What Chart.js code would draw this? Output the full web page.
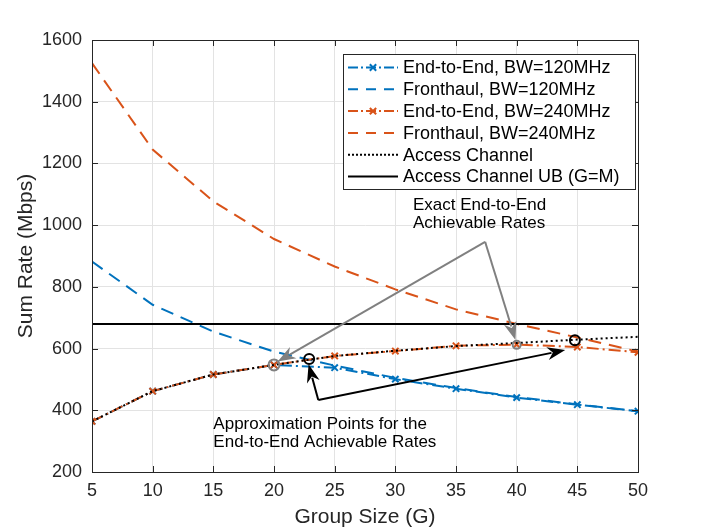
<!DOCTYPE html>
<html><head><meta charset="utf-8">
<script src="https://cdn.jsdelivr.net/npm/chart.js@4.4.0/dist/chart.umd.min.js"></script>
<style>html,body{margin:0;padding:0;background:#fff;} canvas{display:block;}</style>
</head><body>
<canvas id="c" width="706" height="530" style="width:706px;height:530px"></canvas>
<script>
// ---- data ----
const groupSizes = [5, 10, 15, 20, 25, 30, 35, 40, 45, 50];
const e2e120 = [364, 462, 516, 547, 538, 501, 470, 441, 418, 397];
const fronthaul120 = [882, 742, 655, 590, 545, 505, 472, 443, 419, 397];
const e2e240 = [364, 462, 516, 547, 576, 592, 609, 613, 605, 588];
const fronthaul240 = [1525, 1245, 1077, 955, 866, 792, 727, 680, 636, 590];
const accessChannel = [364, 462, 516, 547, 576, 593, 608, 618, 629, 638];
const accessUBx = [5, 50];
const accessUB = [680, 680];
const xTickValues = [5, 10, 15, 20, 25, 30, 35, 40, 45, 50];
const yTickValues = [200, 400, 600, 800, 1000, 1200, 1400, 1600];
const seriesLabels = ['End-to-End, BW=120MHz', 'Fronthaul, BW=120MHz', 'End-to-End, BW=240MHz',
  'Fronthaul, BW=240MHz', 'Access Channel', 'Access Channel UB (G=M)'];
// annotation points (data coordinates)
const exactPoints = [[20, 547], [40, 612]];
const approxPoints = [[22.9, 566], [44.8, 627]];
const exactArrowFrom = [37.4, 946];
const exactArrowTips = [[20.3, 558], [39.9, 628]];
const approxArrowFrom = [23.65, 433];
const approxArrowTips = [[22.85, 549], [44.0, 595]];
const exactText = ['Exact End-to-End', 'Achievable Rates'];
const exactTextAt = [31.45, 1065];
const approxText = ['Approximation Points for the', 'End-to-End Achievable Rates'];
const approxTextAt = [15.0, 355];

const BLUE = '#0072BD', ORANGE = '#D95319', AX = '#262626';
const FONT = '"Liberation Sans", Arial, Helvetica, sans-serif';
const pts = (xs, ys) => xs.map((x, i) => ({x, y: ys[i]}));

const styles = [
  {color: BLUE, dash: [12, 4, 2, 4], marker: true},
  {color: BLUE, dash: [13, 8], marker: false},
  {color: ORANGE, dash: [12, 4, 2, 4], marker: true},
  {color: ORANGE, dash: [13, 8], marker: false},
  {color: '#000', dash: [2, 3], marker: false},
  {color: '#000', dash: [], marker: false},
];
const seriesData = [pts(groupSizes, e2e120), pts(groupSizes, fronthaul120), pts(groupSizes, e2e240),
  pts(groupSizes, fronthaul240), pts(groupSizes, accessChannel), pts(accessUBx, accessUB)];

const datasets = seriesData.map((d, i) => ({
  label: seriesLabels[i], data: d, showLine: true,
  borderColor: styles[i].color, backgroundColor: styles[i].color,
  borderWidth: 2, borderDash: styles[i].dash,
  pointStyle: 'crossRot', pointRadius: styles[i].marker ? 4.5 : 0, pointBorderWidth: 2,
  pointBorderColor: styles[i].color, pointHoverRadius: 0,
  order: 6 - i, tension: 0
}));

function drawArrow(ctx, x0, y0, x1, y1, color, hl, hw) {
  const dx = x1 - x0, dy = y1 - y0, L = Math.hypot(dx, dy);
  const ux = dx / L, uy = dy / L;
  const bx = x1 - ux * hl, by = y1 - uy * hl;
  ctx.save();
  ctx.strokeStyle = color; ctx.fillStyle = color; ctx.lineWidth = 2; ctx.setLineDash([]);
  ctx.beginPath(); ctx.moveTo(x0, y0); ctx.lineTo(bx + ux * 4, by + uy * 4); ctx.stroke();
  ctx.beginPath();
  ctx.moveTo(x1, y1);
  ctx.lineTo(bx - uy * hw / 2, by + ux * hw / 2);
  ctx.lineTo(bx + ux * hl * 0.3, by + uy * hl * 0.3);
  ctx.lineTo(bx + uy * hw / 2, by - ux * hw / 2);
  ctx.closePath(); ctx.fill();
  ctx.restore();
}

const framePlugin = {
  id: 'frame',
  afterDatasetsDraw(chart) {
    const {ctx, chartArea: a, scales: {x, y}} = chart;
    const P = (p) => [x.getPixelForValue(p[0]), y.getPixelForValue(p[1])];
    ctx.save();
    ctx.setLineDash([]);
    ctx.lineWidth = 2;
    ctx.strokeStyle = '#808080';
    exactPoints.forEach((p, i) => { const [px, py] = P(p); ctx.beginPath(); ctx.arc(px, py, i === 0 ? 5.5 : 4, 0, Math.PI * 2); ctx.stroke(); });
    ctx.strokeStyle = '#000';
    approxPoints.forEach(p => { const [px, py] = P(p); ctx.beginPath(); ctx.arc(px, py, 5, 0, Math.PI * 2); ctx.stroke(); });
    const ef = P(exactArrowFrom);
    exactArrowTips.forEach(t => { const [tx, ty] = P(t); drawArrow(ctx, ef[0], ef[1], tx, ty, '#808080', 18, 13); });
    const af = P(approxArrowFrom);
    approxArrowTips.forEach(t => { const [tx, ty] = P(t); drawArrow(ctx, af[0], af[1], tx, ty, '#000', 18, 13); });
    ctx.fillStyle = '#000';
    ctx.font = '17px ' + FONT;
    ctx.textBaseline = 'middle'; ctx.textAlign = 'left';
    let [tx, ty] = P(exactTextAt);
    exactText.forEach((s, i) => ctx.fillText(s, tx, ty + i * 18.5));
    [tx, ty] = P(approxTextAt);
    approxText.forEach((s, i) => ctx.fillText(s, tx, ty + i * 18.5));
    ctx.strokeStyle = AX; ctx.lineWidth = 1;
    ctx.strokeRect(Math.round(a.left) + 0.5, Math.round(a.top) + 0.5, Math.round(a.right - a.left), Math.round(a.bottom - a.top));
    ctx.beginPath();
    xTickValues.forEach(v => {
      const px = Math.round(x.getPixelForValue(v)) + 0.5;
      ctx.moveTo(px, a.bottom); ctx.lineTo(px, a.bottom - 6);
      ctx.moveTo(px, a.top); ctx.lineTo(px, a.top + 6);
    });
    yTickValues.forEach(v => {
      const py = Math.round(y.getPixelForValue(v)) + 0.5;
      ctx.moveTo(a.left, py); ctx.lineTo(a.left + 6, py);
      ctx.moveTo(a.right, py); ctx.lineTo(a.right - 6, py);
    });
    ctx.stroke();
    const lx = 343, ly = 54, lw = 292, lh = 135;
    ctx.fillStyle = '#fff';
    ctx.fillRect(lx, ly, lw, lh);
    ctx.strokeStyle = AX; ctx.lineWidth = 1;
    ctx.strokeRect(lx + 0.5, ly + 0.5, lw, lh);
    ctx.font = '18px ' + FONT;
    ctx.textBaseline = 'middle';
    seriesLabels.forEach((lab, i) => {
      const cy = 67.5 + i * 21.8;
      const st = styles[i];
      ctx.strokeStyle = st.color; ctx.lineWidth = 2;
      ctx.setLineDash(st.dash.length ? (st.marker ? [10, 3, 2, 3] : (i === 4 ? [2, 2] : [10, 8])) : []);
      ctx.beginPath(); ctx.moveTo(348, cy); ctx.lineTo(398, cy); ctx.stroke();
      ctx.setLineDash([]);
      if (st.marker) {
        const r = 4.5 * Math.SQRT1_2, cx = 373;
        ctx.beginPath();
        ctx.moveTo(cx - r, cy - r); ctx.lineTo(cx + r, cy + r);
        ctx.moveTo(cx - r, cy + r); ctx.lineTo(cx + r, cy - r);
        ctx.stroke();
      }
      ctx.fillStyle = '#000';
      ctx.fillText(lab, 403, cy + 1);
    });
    ctx.restore();
  }
};

new Chart(document.getElementById('c'), {
  type: 'scatter',
  data: {datasets},
  options: {
    responsive: false, animation: false, devicePixelRatio: 1,
    layout: {padding: {left: 0, right: 68, top: 40, bottom: 0}},
    plugins: {legend: {display: false}, tooltip: {enabled: false}},
    scales: {
      x: {
        type: 'linear', min: 5, max: 50,
        afterBuildTicks: s => { s.ticks = xTickValues.map(v => ({value: v})); },
        afterFit: s => { s.height = 58; },
        grid: {color: '#e3e3e3', lineWidth: 1, drawTicks: false},
        border: {display: true, color: AX, width: 1},
        ticks: {color: AX, font: {family: FONT, size: 18}, padding: 8, maxRotation: 0, autoSkip: false, callback: v => String(v)},
        title: {display: true, text: 'Group Size (G)', color: AX, font: {family: FONT, size: 21}, padding: {top: 0, bottom: 0}}
      },
      y: {
        type: 'linear', min: 200, max: 1600,
        afterBuildTicks: s => { s.ticks = yTickValues.map(v => ({value: v})); },
        afterFit: s => { s.width = 92; },
        grid: {color: '#e3e3e3', lineWidth: 1, drawTicks: false},
        border: {display: true, color: AX, width: 1},
        ticks: {color: AX, font: {family: FONT, size: 18}, padding: 10, autoSkip: false, callback: v => String(v)},
        title: {display: true, text: 'Sum Rate (Mbps)', color: AX, font: {family: FONT, size: 21}, padding: {top: 14, bottom: 0}}
      }
    }
  },
  plugins: [framePlugin]
});
</script></body></html>
